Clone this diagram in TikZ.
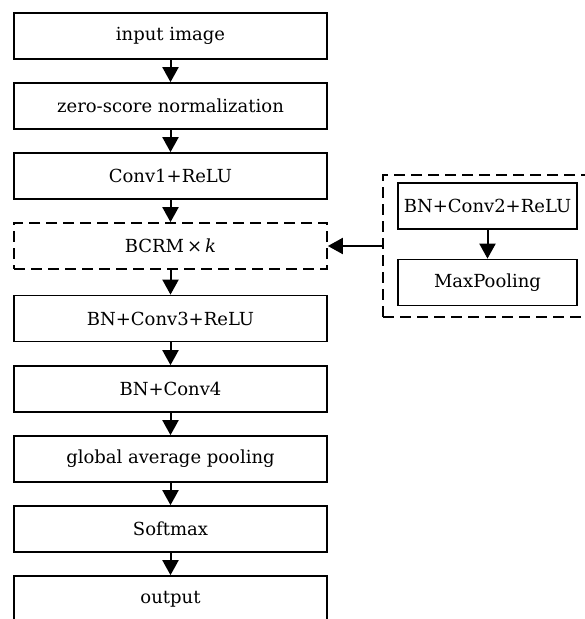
\documentclass[tikz,border=0pt]{standalone}
\usepackage{fontspec}
\setmainfont{DejaVu Serif}
\usetikzlibrary{arrows.meta}
\tikzset{
  box/.style={draw, line width=1.7pt, minimum width=313pt, minimum height=46pt, inner sep=0pt, font=\fontsize{18}{21}\selectfont},
  sbox/.style={draw, line width=1.7pt, minimum width=179pt, minimum height=46pt, inner sep=0pt, font=\fontsize{18}{21}\selectfont},
  dbox/.style={box, dashed, dash pattern=on 11pt off 6pt},
  flow/.style={line width=2pt, -{Triangle[width=16pt,length=15pt]}}
}
\begin{document}
\begin{tikzpicture}[x=1pt,y=-1pt]
\useasboundingbox (0,0) rectangle (585,619);
\node[box] (in) at (170.5,36) {input image};
\node[box] (zs) at (170.5,106) {zero-score normalization};
\node[box] (c1) at (170.5,176) {Conv1+ReLU};
\node[dbox] (bcrm) at (170.5,246) {BCRM\,×\,\textit{k}};
\node[box] (c3) at (170.5,318.5) {BN+Conv3+ReLU};
\node[box] (c4) at (170.5,389) {BN+Conv4};
\node[box] (gap) at (170.5,459) {global average pooling};
\node[box] (sm) at (170.5,529) {Softmax};
\node[box] (out) at (170.5,599) {output};
\node[draw, line width=1.7pt, dashed, dash pattern=on 11pt off 6pt, minimum width=212pt, minimum height=142pt, inner sep=0pt] (outer) at (489,246) {};
\node[sbox] (c2) at (487.5,206) {BN+Conv2+ReLU};
\node[sbox] (mp) at (487.5,282.5) {MaxPooling};
\draw[flow] (in) -- (zs);
\draw[flow] (zs) -- (c1);
\draw[flow] (c1) -- (bcrm);
\draw[flow] (bcrm) -- (c3);
\draw[flow] (c3) -- (c4);
\draw[flow] (c4) -- (gap);
\draw[flow] (gap) -- (sm);
\draw[flow] (sm) -- (out);
\draw[flow] (c2) -- (mp);
\draw[flow] (outer.west) -- (bcrm.east);
\end{tikzpicture}
\end{document}
